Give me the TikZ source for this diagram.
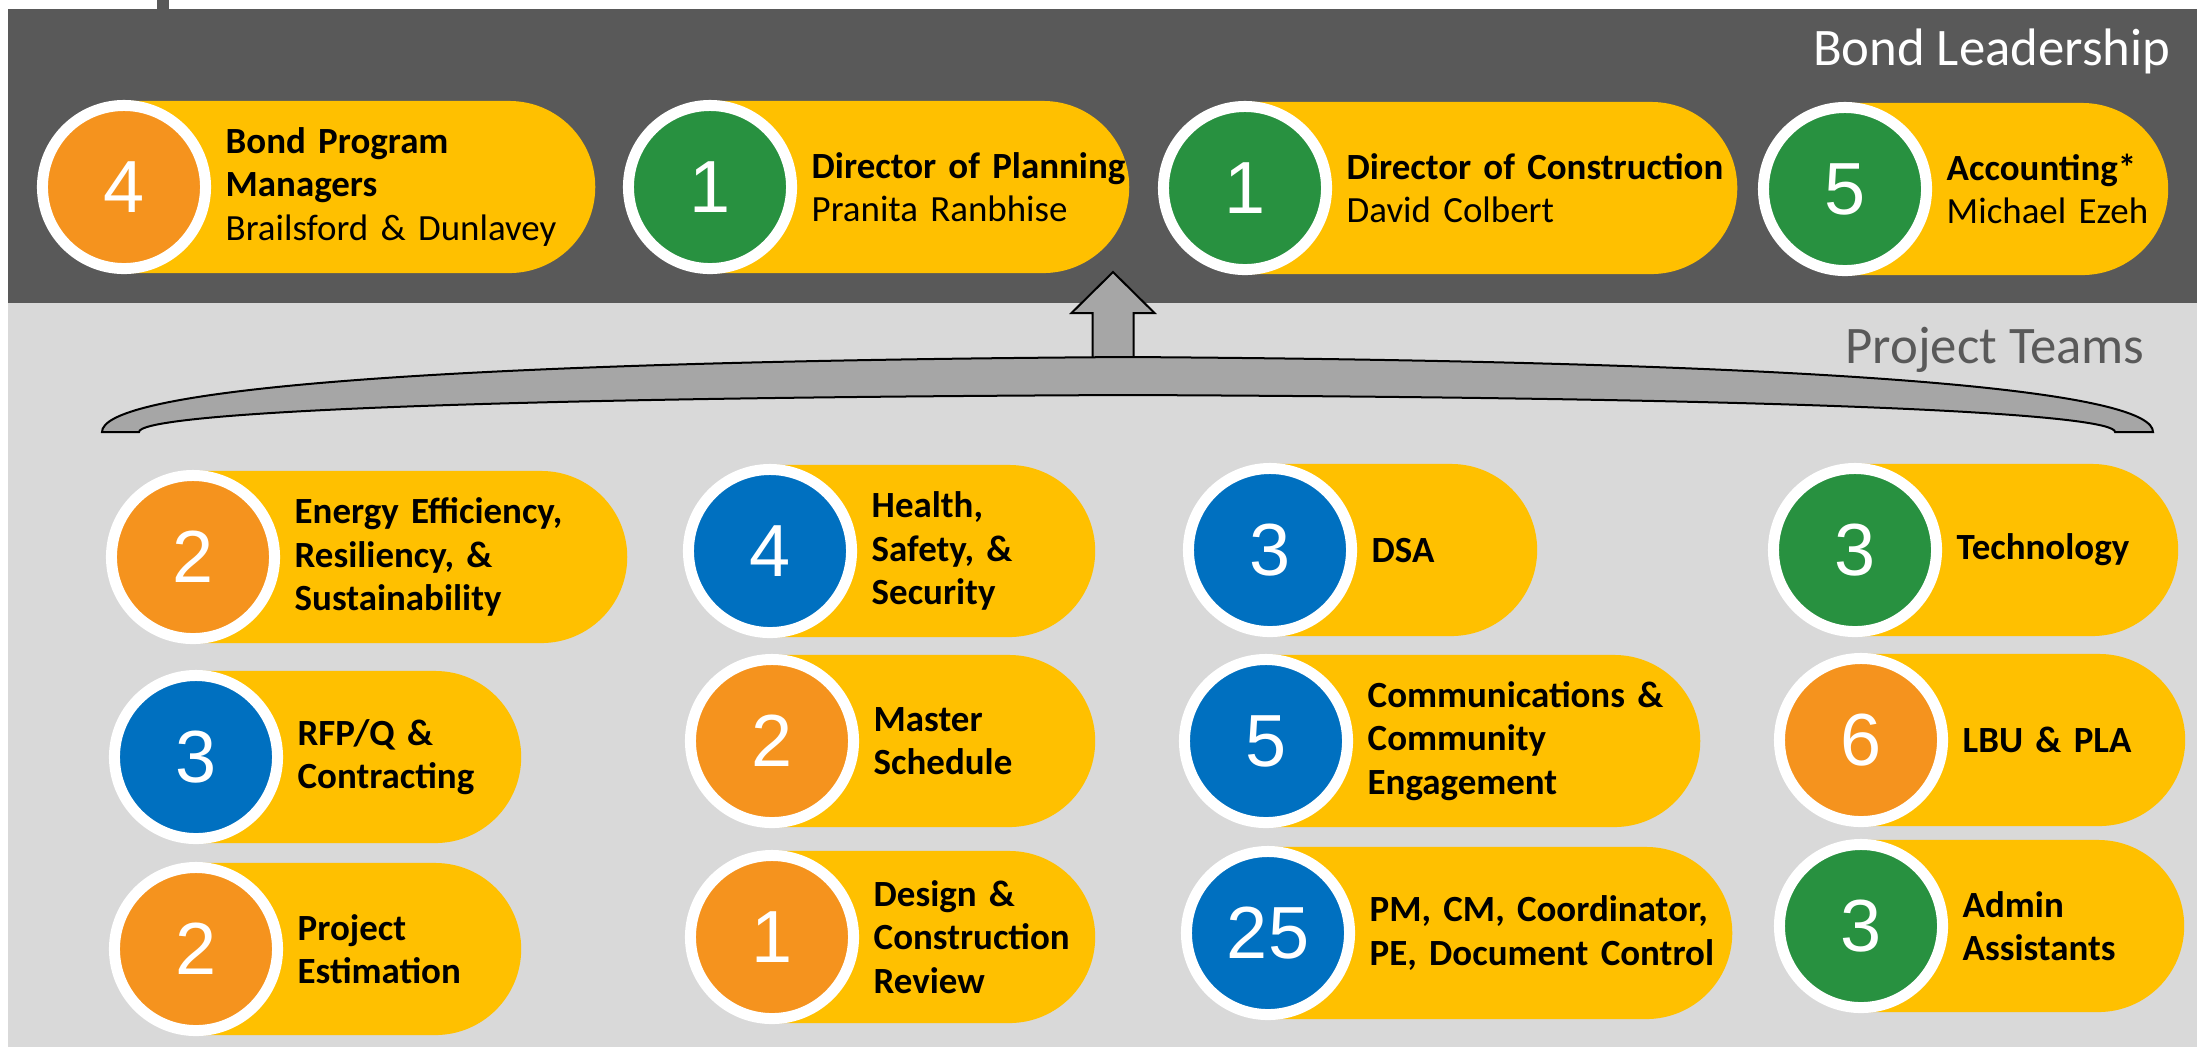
\documentclass[tikz,border=0pt]{standalone}
\usepackage{fontspec}
\setmainfont{Carlito}
\newfontfamily\numfont{Liberation Sans}
\usetikzlibrary{shapes.misc,positioning}

\definecolor{darkband}{RGB}{89,89,89}
\definecolor{lightband}{RGB}{217,217,217}
\definecolor{pillyellow}{RGB}{255,192,0}
\definecolor{pmorange}{RGB}{245,147,30}
\definecolor{pmgreen}{RGB}{40,145,64}
\definecolor{pmblue}{RGB}{0,112,192}
\definecolor{arrowgray}{RGB}{166,166,166}
\definecolor{teamgray}{RGB}{89,89,89}

\begin{document}
\begin{tikzpicture}[x=0.01cm,y=-0.01cm,
    ring/.style={circle,draw=white,line width=0.11cm,minimum size=1.63cm,inner sep=0pt,text=white,font=\numfont\fontsize{21}{21}\selectfont},
    pill/.style={rounded rectangle,rounded rectangle west arc=none,fill=pillyellow,minimum height=1.72cm,inner sep=0pt,outer sep=0pt,anchor=west},
    lead/.style={anchor=west,align=left,text width=4.6cm,inner sep=0pt,font=\fontsize{10.5}{12.3}\selectfont},
    team/.style={lead,font=\fontsize{10.5}{12.3}\selectfont\bfseries},
    header/.style={anchor=base east,inner sep=0pt,font=\fontsize{15}{18}\selectfont}]

    \useasboundingbox (0,0) rectangle (2197,1047);
    \fill[darkband] (8,9) rectangle (2197,303); % leadership
    \fill[lightband] (8,303) rectangle (2197,1047); % teams
    \fill[darkband] (157,0) rectangle (169,9);

    \node[header,text=white] (leadtitle) at (2171,65) {Bond Leadership};
    \node[header,text=teamgray] (teamtitle) at (2145,363) {Project Teams};

    % arrow and brace
    \coordinate (arrowbase) at (1113,362);
    \filldraw[fill=arrowgray,draw=black,line width=0.02cm] (arrowbase) ++(-20.5,0) -- (1092.5,313) -- (1071.5,313) -- (1113,272) -- (1154.5,313) -- (1133.5,313) -- (1133.5,362) -- cycle;
    \filldraw[fill=arrowgray,draw=black,line width=0.02cm] (102,432) .. controls (102,395) and (356,362) .. (1128,357) .. controls (1900,362) and (2153,395) .. (2153,432) -- (2115,432) .. controls (2115,415) and (1850,398) .. (1128,395) .. controls (406,398) and (139,415) .. (139,432) -- cycle;

    \foreach \n/\cx/\cy/\rx/\col/\num/\st/\txt in {
      bpm/124/187/595/pmorange/4/lead/{\textbf{Bond Program}\\\textbf{Managers}\\Brailsford \& Dunlavey},
      dplan/710/187/1129/pmgreen/1/lead/{\textbf{Director of Planning}\\Pranita Ranbhise},
      dcons/1245/188/1737/pmgreen/1/lead/{\textbf{Director of Construction}\\David Colbert},
      acct/1845/189/2168/pmgreen/5/lead/{\textbf{Accounting*}\\Michael Ezeh},
      eers/193/557/627/pmorange/2/team/{Energy Efficiency,\\Resiliency, \&\\Sustainability},
      hss/770/551/1095/pmblue/4/team/{Health,\\Safety, \&\\Security},
      dsa/1270/550/1537/pmblue/3/team/{DSA},
      tech/1855/550/2178/pmgreen/3/team/{Technology},
      rfpq/196/757/521/pmblue/3/team/{RFP/Q \&\\Contracting},
      msched/772/741/1095/pmorange/2/team/{Master\\Schedule},
      comm/1266/741/1700/pmblue/5/team/{Communications \&\\Community\\Engagement},
      lbu/1861/740/2185/pmorange/6/team/{LBU \& PLA},
      pest/196/949/521/pmorange/2/team/{Project\\Estimation},
      dcr/772/937/1095/pmorange/1/team/{Design \&\\Construction\\Review},
      pmcm/1268/933/1732/pmblue/25/team/{PM, CM, Coordinator,\\PE, Document Control},
      admin/1861/926/2184/pmgreen/3/team/{Admin\\Assistants}}
    {
      \pgfmathsetmacro\w{(\rx-\cx)/100}
      \node[pill,minimum width=\w cm] (\n-p) at (\cx,\cy) {};
      \node[ring,fill=\col] (\n-c) at (\cx,\cy) {\num};
      \node[\st] (\n-t) at (\cx+101,\cy) {\txt};
    }

\end{tikzpicture}
\end{document}
